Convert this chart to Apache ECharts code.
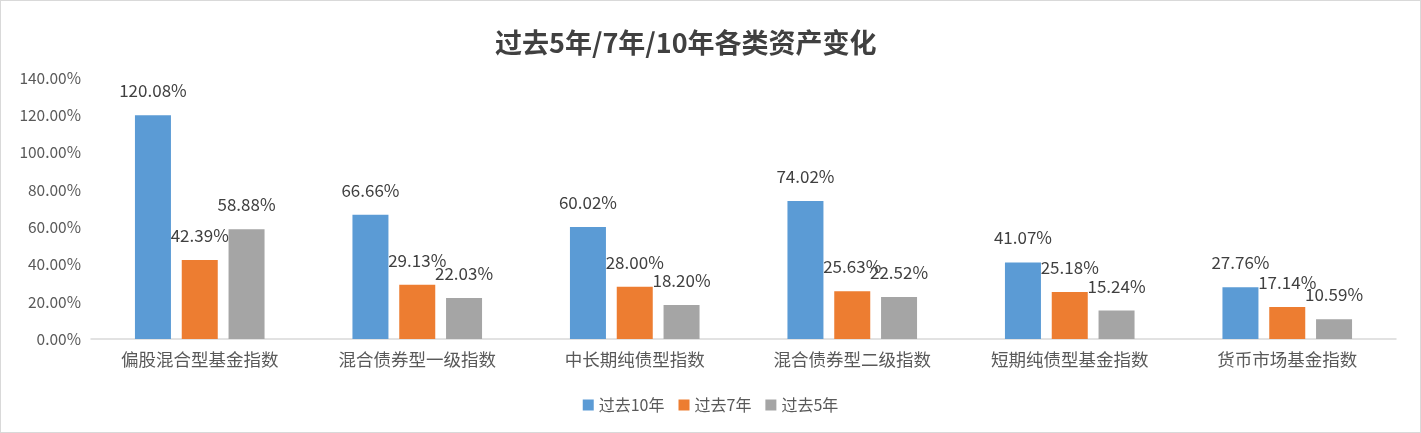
<!DOCTYPE html>
<html><head><meta charset="utf-8">
<script src="https://cdn.jsdelivr.net/npm/echarts@6/dist/echarts.min.js"></script>
<style>
html,body{margin:0;padding:0;background:#fff;}
#c{width:1419px;height:431px;border:1px solid #d9d9d9;}
</style></head>
<body><div id="c"></div>
<script>
const title = '过去5年/7年/10年各类资产变化';
const categories = ['偏股混合型基金指数','混合债券型一级指数','中长期纯债型指数','混合债券型二级指数','短期纯债型基金指数','货币市场基金指数'];
const seriesNames = ['过去10年','过去7年','过去5年'];
const past10 = [120.08, 66.66, 60.02, 74.02, 41.07, 27.76];
const past7 = [42.39, 29.13, 28.00, 25.63, 25.18, 17.14];
const past5 = [58.88, 22.03, 18.20, 22.52, 15.24, 10.59];
const colors = ['#5b9bd5','#ed7d31','#a5a5a5'];
const font = '"Noto Sans CJK SC", "Liberation Sans", sans-serif';

const chart = echarts.init(document.getElementById('c'));
const mk = (name, data, i) => ({
  name, type:'bar', data, barWidth:36, barGap:'30%',
  itemStyle:{color:colors[i]},
  label:{show:true, position:'top', distance:16, color:'#404040', fontSize:17, fontFamily:font,
    formatter: p => p.value.toFixed(2) + '%'}
});
chart.setOption({
  animation:false,
  textStyle:{fontFamily:font},
  title:{text:title, left:489, top:23, textStyle:{fontSize:27, fontWeight:'bold', color:'#404040', fontFamily:font}},
  legend:{bottom:14, left:'center', itemWidth:11, itemHeight:11, itemGap:14, icon:'rect',
    textStyle:{fontSize:16, color:'#595959', fontFamily:font}, data:seriesNames},
  grid:{left:90, right:24, top:77, bottom:93},
  xAxis:{type:'category', data:categories,
    axisLine:{lineStyle:{color:'#d9d9d9', width:1.5}}, axisTick:{show:false},
    axisLabel:{fontSize:17.5, color:'#595959', margin:12, fontFamily:font}},
  yAxis:{type:'value', min:0, max:140, interval:20,
    axisLine:{show:false}, axisTick:{show:false}, splitLine:{show:false},
    axisLabel:{fontSize:15.5, color:'#595959', margin:10, fontFamily:font, formatter: v => v.toFixed(2)+'%'}},
  series:[mk(seriesNames[0], past10, 0), mk(seriesNames[1], past7, 1), mk(seriesNames[2], past5, 2)]
});
</script></body></html>
